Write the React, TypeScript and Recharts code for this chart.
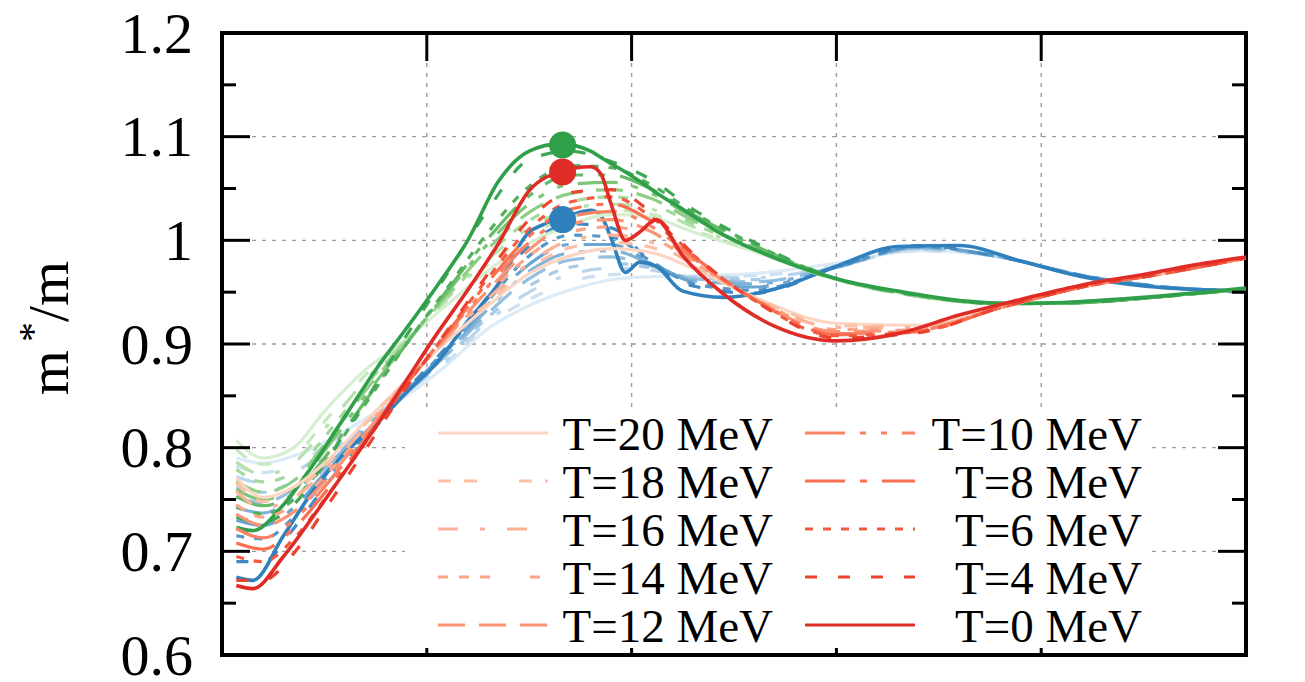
import React from 'react';
import {
  ComposedChart,
  Line,
  XAxis,
  YAxis,
  CartesianGrid,
  ReferenceArea,
  ReferenceLine,
  ReferenceDot,
  Legend
} from 'recharts';

const FONT = '"Liberation Serif", "Times New Roman", serif';

// temperatures, hottest first (same order as the key)
const temps = [20, 18, 16, 14, 12, 10, 8, 6, 4, 0];
const dashes = ['', '13 13 13 42', '20 22 5 22', '10 11 10 11 10 40', '27 14', '40 15 6 15 6 15', '40 15 7 15', '8 10', '12 21', ''];

const yTicks = [0.6, 0.7, 0.8, 0.9, 1, 1.1, 1.2];
const yMinor = [0.65, 0.75, 0.85, 0.95, 1.05, 1.15];
const xTicks = [0, 1, 2, 3, 4, 5];
const xInner = [1, 2, 3, 4];

// sample positions
const xCoarse = [0.07, 0.2, 0.35, 0.5, 0.7, 0.9, 1.1, 1.3, 1.5, 1.7, 1.9, 2.1, 2.3, 2.6, 3.0, 3.4, 3.8, 4.2, 4.6, 5.0];
const xFine = [0.07, 0.15, 0.3, 0.45, 0.6, 0.75, 0.9, 1.05, 1.2, 1.35, 1.5, 1.65, 1.8, 1.85, 1.9, 1.97, 2.04, 2.12, 2.25, 2.45, 2.7, 3.0, 3.3, 3.6, 3.9, 4.2, 4.5, 4.8, 5.0];

// blue family
const blueT20 = [0.79, 0.785, 0.792, 0.805, 0.828, 0.85, 0.88, 0.915, 0.937, 0.952, 0.962, 0.965, 0.966, 0.968, 0.978, 0.99, 0.984, 0.966, 0.955, 0.951];
const blueT18 = [0.782, 0.776, 0.784, 0.8, 0.826, 0.852, 0.883, 0.919, 0.943, 0.96, 0.967, 0.968, 0.965, 0.966, 0.976, 0.99, 0.984, 0.966, 0.955, 0.951];
const blueT16 = [0.772, 0.766, 0.776, 0.795, 0.824, 0.853, 0.885, 0.922, 0.95, 0.967, 0.973, 0.971, 0.965, 0.964, 0.975, 0.991, 0.984, 0.966, 0.955, 0.951];
const blueT14 = [0.762, 0.757, 0.768, 0.79, 0.822, 0.854, 0.888, 0.926, 0.956, 0.974, 0.978, 0.973, 0.964, 0.962, 0.974, 0.992, 0.984, 0.966, 0.955, 0.951];
const blueT12 = [0.752, 0.747, 0.76, 0.785, 0.82, 0.855, 0.89, 0.93, 0.963, 0.981, 0.984, 0.975, 0.963, 0.96, 0.974, 0.993, 0.984, 0.966, 0.955, 0.951];
const blueT10 = [0.742, 0.737, 0.752, 0.78, 0.818, 0.855, 0.892, 0.934, 0.97, 0.988, 0.99, 0.977, 0.961, 0.958, 0.974, 0.993, 0.984, 0.966, 0.955, 0.951];
const blueT8 = [0.73, 0.725, 0.742, 0.775, 0.815, 0.855, 0.894, 0.938, 0.977, 0.996, 0.996, 0.978, 0.96, 0.955, 0.974, 0.994, 0.984, 0.966, 0.955, 0.951];
const blueT6 = [0.715, 0.712, 0.733, 0.768, 0.812, 0.855, 0.896, 0.942, 0.985, 1.005, 1.003, 0.979, 0.958, 0.952, 0.974, 0.994, 0.984, 0.966, 0.955, 0.951];
const blueT4 = [0.69, 0.69, 0.722, 0.762, 0.808, 0.855, 0.898, 0.946, 0.995, 1.016, 1.012, 0.978, 0.956, 0.949, 0.974, 0.995, 0.984, 0.966, 0.955, 0.951];
const blueT0 = [0.675, 0.672, 0.715, 0.76, 0.795, 0.822, 0.853, 0.882, 0.922, 0.958, 1.008, 1.02, 1.029, 1.024, 1.002, 0.969, 0.979, 0.975, 0.951, 0.945, 0.953, 0.975, 0.994, 0.995, 0.98, 0.965, 0.956, 0.952, 0.95];

// green family
const greenT20 = [0.807, 0.79, 0.8, 0.835, 0.875, 0.905, 0.938, 0.971, 0.997, 1.015, 1.025, 1.022, 1.008, 0.989, 0.962, 0.946, 0.939, 0.94, 0.946, 0.953];
const greenT18 = [0.798, 0.784, 0.792, 0.825, 0.87, 0.905, 0.942, 0.977, 1.005, 1.022, 1.029, 1.025, 1.01, 0.99, 0.962, 0.946, 0.939, 0.94, 0.946, 0.953];
const greenT16 = [0.786, 0.774, 0.785, 0.818, 0.865, 0.904, 0.944, 0.982, 1.012, 1.03, 1.035, 1.03, 1.013, 0.991, 0.962, 0.946, 0.939, 0.94, 0.946, 0.953];
const greenT14 = [0.779, 0.767, 0.776, 0.81, 0.86, 0.903, 0.946, 0.987, 1.019, 1.037, 1.042, 1.035, 1.016, 0.992, 0.963, 0.946, 0.939, 0.94, 0.946, 0.953];
const greenT12 = [0.768, 0.757, 0.768, 0.803, 0.855, 0.902, 0.948, 0.992, 1.027, 1.045, 1.049, 1.04, 1.019, 0.993, 0.963, 0.946, 0.939, 0.94, 0.946, 0.953];
const greenT10 = [0.76, 0.75, 0.762, 0.797, 0.85, 0.901, 0.95, 0.997, 1.035, 1.054, 1.056, 1.045, 1.022, 0.994, 0.963, 0.947, 0.939, 0.94, 0.946, 0.953];
const greenT8 = [0.753, 0.744, 0.756, 0.79, 0.845, 0.9, 0.952, 1.002, 1.043, 1.063, 1.063, 1.049, 1.025, 0.995, 0.963, 0.947, 0.939, 0.94, 0.946, 0.953];
const greenT6 = [0.743, 0.736, 0.75, 0.785, 0.842, 0.9, 0.954, 1.008, 1.052, 1.072, 1.07, 1.053, 1.027, 0.996, 0.963, 0.947, 0.939, 0.94, 0.946, 0.953];
const greenT4 = [0.733, 0.728, 0.745, 0.785, 0.845, 0.908, 0.968, 1.03, 1.078, 1.086, 1.076, 1.058, 1.03, 0.998, 0.963, 0.947, 0.939, 0.94, 0.946, 0.953];
const greenT0 = [0.723, 0.72, 0.745, 0.785, 0.83, 0.875, 0.915, 0.956, 1.0, 1.057, 1.086, 1.093, 1.086, 1.08, 1.074, 1.066, 1.057, 1.046, 1.03, 1.005, 0.983, 0.963, 0.951, 0.942, 0.939, 0.941, 0.945, 0.95, 0.954];

// red family
const redT20 = [0.771, 0.752, 0.762, 0.785, 0.825, 0.865, 0.903, 0.937, 0.968, 0.985, 0.992, 0.988, 0.973, 0.945, 0.92, 0.918, 0.935, 0.955, 0.968, 0.983];
const redT18 = [0.766, 0.748, 0.758, 0.782, 0.823, 0.865, 0.905, 0.94, 0.973, 0.993, 0.998, 0.993, 0.975, 0.945, 0.918, 0.917, 0.935, 0.955, 0.968, 0.983];
const redT16 = [0.758, 0.742, 0.752, 0.777, 0.82, 0.864, 0.906, 0.944, 0.978, 1.0, 1.005, 0.998, 0.977, 0.944, 0.916, 0.916, 0.935, 0.955, 0.968, 0.983];
const redT14 = [0.745, 0.733, 0.745, 0.772, 0.817, 0.863, 0.907, 0.948, 0.985, 1.008, 1.013, 1.003, 0.979, 0.944, 0.914, 0.915, 0.935, 0.955, 0.968, 0.983];
const redT12 = [0.736, 0.725, 0.738, 0.767, 0.814, 0.862, 0.908, 0.952, 0.991, 1.016, 1.02, 1.008, 0.981, 0.943, 0.912, 0.914, 0.935, 0.955, 0.968, 0.983];
const redT10 = [0.722, 0.713, 0.73, 0.762, 0.811, 0.862, 0.91, 0.956, 0.998, 1.023, 1.028, 1.013, 0.983, 0.943, 0.91, 0.913, 0.935, 0.955, 0.968, 0.983];
const redT8 = [0.708, 0.702, 0.722, 0.756, 0.808, 0.861, 0.911, 0.96, 1.004, 1.03, 1.035, 1.018, 0.985, 0.943, 0.909, 0.912, 0.935, 0.955, 0.968, 0.983];
const redT6 = [0.695, 0.69, 0.712, 0.75, 0.805, 0.86, 0.912, 0.964, 1.011, 1.037, 1.042, 1.022, 0.986, 0.942, 0.908, 0.912, 0.935, 0.955, 0.968, 0.983];
const redT4 = [0.672, 0.672, 0.698, 0.74, 0.798, 0.858, 0.913, 0.968, 1.02, 1.046, 1.049, 1.026, 0.987, 0.942, 0.906, 0.911, 0.935, 0.955, 0.968, 0.983];
const redT0 = [0.667, 0.664, 0.695, 0.735, 0.777, 0.82, 0.865, 0.91, 0.952, 0.997, 1.048, 1.066, 1.071, 1.064, 1.035, 1.0, 1.008, 1.02, 0.985, 0.948, 0.917, 0.903, 0.91, 0.928, 0.943, 0.957, 0.967, 0.978, 0.984];

// big markers at the T=0 maxima
const peakX = [1.663, 1.663, 1.663];
const peakY = [1.02, 1.092, 1.066];

const blueColors = ['#dcebf6', '#cce0f1', '#bbd6ec', '#a8cbe5', '#94bfdf', '#7fb2d8', '#69a5d0', '#5397c9', '#4089c2', '#3080bd'];
const greenColors = ['#d7efd1', '#c7e9c0', '#b4e1ac', '#a1d99a', '#8ecf87', '#7ac576', '#66bb69', '#52b05d', '#40a754', '#2f9f4a'];
const redColors = ['#fdd5c3', '#fcc1a6', '#fcb295', '#fca487', '#fc9373', '#fb8164', '#fa6f51', '#f45a40', '#ec4230', '#df2c27'];
const peakColors = ['#3080bd', '#2f9f4a', '#df2c27'];

const toPoints = (xs: number[], ys: number[]) => xs.map((x, i) => ({ x, y: ys[i] }));

const families = [
  { name: 'blue', colors: blueColors, curves: [blueT20, blueT18, blueT16, blueT14, blueT12, blueT10, blueT8, blueT6, blueT4, blueT0] },
  { name: 'green', colors: greenColors, curves: [greenT20, greenT18, greenT16, greenT14, greenT12, greenT10, greenT8, greenT6, greenT4, greenT0] },
  { name: 'red', colors: redColors, curves: [redT20, redT18, redT16, redT14, redT12, redT10, redT8, redT6, redT4, redT0] }
];

const YTick = ({ x, y, payload }: any) => (
  <text x={x} y={y} dy="0.34em" textAnchor="end" fontSize={58} fontFamily={FONT} fill="#000">
    {String(Number(payload.value.toFixed(1)))}
  </text>
);

const YLabel = () => (
  <text
    x={68}
    y={328}
    transform="rotate(-90 68 328)"
    textAnchor="middle"
    fontSize={58}
    fontFamily={FONT}
    fill="#000"
  >
    m<tspan dx={8} dy={-22} fontSize={40}>*</tspan>
    <tspan dy={22}>/m</tspan>
  </text>
);

const KeyBox = () => (
  <div style={{ width: 742, height: 240, background: '#fff' }}>
    <svg width={742} height={240} style={{ overflow: 'visible', display: 'block' }}>
      {temps.map((t, i) => {
        const col = i < 5 ? 0 : 1;
        const y = 25 + (i % 5) * 48;
        const x0 = col ? 400 : 33;
        const tx = col ? 737 : 368;
        return (
          <g key={t}>
            <line
              x1={x0}
              x2={x0 + 110}
              y1={y}
              y2={y}
              stroke={redColors[i]}
              strokeWidth={3.2}
              strokeDasharray={dashes[i] || undefined}
            />
            <text x={tx} y={y + 17} textAnchor="end" fontSize={47} fontFamily={FONT} fill="#000">
              {`T=${t} MeV`}
            </text>
          </g>
        );
      })}
    </svg>
  </div>
);

const MAJ_X = 28 / 204.8;
const MIN_X = 14 / 204.8;
const MAJ_Y = 28 / 1037;

export default function App() {
  return (
    <div style={{ position: 'absolute', left: 0, top: 0, width: 1305, height: 682, background: '#fff' }}>
      <ComposedChart width={1305} height={682} margin={{ top: 33, right: 59, bottom: 27, left: 0 }}>
        <CartesianGrid
          stroke="#9c9c9c"
          strokeWidth={1.4}
          strokeDasharray="4 6"
          verticalCoordinatesGenerator={({ offset }: any) =>
            xTicks.map((v) => offset.left + (v / 5) * offset.width)
          }
        />
        <XAxis
          type="number"
          dataKey="x"
          domain={[0, 5]}
          ticks={xTicks}
          tick={false}
          tickLine={false}
          axisLine={false}
          height={0}
          allowDataOverflow
        />
        <YAxis
          type="number"
          domain={[0.6, 1.2]}
          ticks={yTicks}
          width={222}
          axisLine={false}
          tickLine={false}
          tickSize={0}
          tickMargin={29}
          tick={<YTick />}
          allowDataOverflow
          label={{ content: () => <YLabel /> }}
        />
        {families.map((f) =>
          f.curves.map((ys, i) => (
            <Line
              key={`${f.name}-${temps[i]}`}
              data={toPoints(i === 9 ? xFine : xCoarse, ys)}
              dataKey="y"
              type="monotone"
              stroke={f.colors[i]}
              strokeWidth={i === 9 ? 3.6 : 3.2}
              strokeDasharray={dashes[i] || undefined}
              dot={false}
              activeDot={false}
              isAnimationActive={false}
            />
          ))
        )}
        {peakX.map((x, i) => (
          <ReferenceDot key={`peak-${i}`} x={x} y={peakY[i]} r={13.5} fill={peakColors[i]} stroke="none" ifOverflow="visible" />
        ))}
        {yTicks.map((v) => (
          <ReferenceLine key={`yl-${v}`} segment={[{ x: 0, y: v }, { x: MAJ_X, y: v }]} stroke="#000" strokeWidth={3} ifOverflow="visible" />
        ))}
        {yTicks.map((v) => (
          <ReferenceLine key={`yr-${v}`} segment={[{ x: 5 - MAJ_X, y: v }, { x: 5, y: v }]} stroke="#000" strokeWidth={3} ifOverflow="visible" />
        ))}
        {yMinor.map((v) => (
          <ReferenceLine key={`yml-${v}`} segment={[{ x: 0, y: v }, { x: MIN_X, y: v }]} stroke="#000" strokeWidth={3} ifOverflow="visible" />
        ))}
        {yMinor.map((v) => (
          <ReferenceLine key={`ymr-${v}`} segment={[{ x: 5 - MIN_X, y: v }, { x: 5, y: v }]} stroke="#000" strokeWidth={3} ifOverflow="visible" />
        ))}
        {xInner.map((v) => (
          <ReferenceLine key={`xt-${v}`} segment={[{ x: v, y: 1.2 }, { x: v, y: 1.2 - MAJ_Y }]} stroke="#000" strokeWidth={3} ifOverflow="visible" />
        ))}
        {xInner.map((v) => (
          <ReferenceLine key={`xb-${v}`} segment={[{ x: v, y: 0.6 }, { x: v, y: 0.6 + MAJ_Y }]} stroke="#000" strokeWidth={3} ifOverflow="visible" />
        ))}
        <ReferenceArea x1={0} x2={5} y1={0.6} y2={1.2} fill="none" stroke="#000" strokeWidth={4} ifOverflow="visible" />
        <Legend
          layout="horizontal"
          verticalAlign="middle"
          align="center"
          content={() => <KeyBox />}
          wrapperStyle={{ position: 'absolute', left: 405, top: 408, width: 742, height: 240 }}
        />
      </ComposedChart>
    </div>
  );
}
